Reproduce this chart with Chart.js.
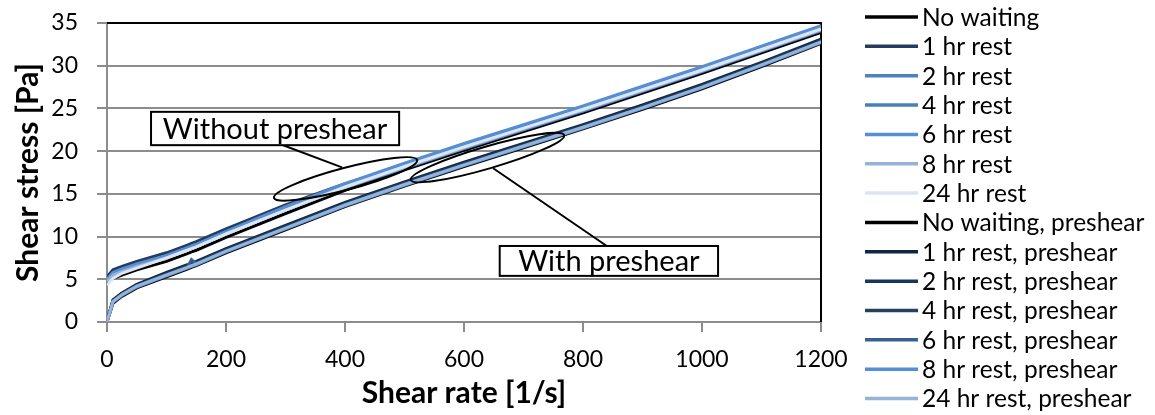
<!DOCTYPE html>
<html>
<head>
<meta charset="utf-8">
<script src="https://cdn.jsdelivr.net/npm/chart.js@4.4.1/dist/chart.umd.min.js"></script>
<style>
  body { margin: 0; background: #fff; }
  #wrap { width: 1155px; height: 415px; position: relative; }
</style>
</head>
<body>
<div id="wrap"><canvas id="graficoCisalhamento"></canvas></div>
<script>
// shear rate [1/s]
const shearRate = [0, 10, 25, 50, 100, 135, 142, 150, 200, 300, 400, 500, 600, 700, 800, 900, 1000, 1100, 1200];

// shear stress [Pa], without preshear
const noWaiting = [4.5, 5.1, 5.5, 6.1, 7.1, 8.0, 8.2, 8.4, 9.9, 12.7, 15.4, 17.8, 20.1, 22.3, 24.5, 26.8, 29.1, 31.5, 33.9];
const rest1 = [5.3, 6.1, 6.5, 7.1, 8.1, 9.0, 9.2, 9.4, 10.9, 13.7, 16.2, 18.3, 20.3, 22.5, 24.7, 27.0, 29.3, 31.7, 34.1];
const rest2 = [4.9, 5.7, 6.1, 6.7, 7.7, 8.6, 8.8, 9.0, 10.5, 13.3, 16.1, 18.5, 20.8, 23.0, 25.2, 27.5, 29.8, 32.2, 34.6];
const rest4 = [4.8, 5.6, 6.0, 6.6, 7.6, 8.5, 8.7, 8.9, 10.4, 13.1, 15.7, 18.0, 20.3, 22.5, 24.7, 27.0, 29.3, 31.7, 34.1];
const rest6 = [5.0, 5.8, 6.2, 6.8, 7.8, 8.7, 8.9, 9.1, 10.6, 13.5, 16.2, 18.6, 20.9, 23.1, 25.3, 27.6, 29.9, 32.3, 34.7];
const rest8 = [4.7, 5.5, 5.9, 6.5, 7.5, 8.4, 8.6, 8.8, 10.3, 13.1, 15.8, 18.1, 20.4, 22.6, 24.8, 27.1, 29.4, 31.8, 34.2];
const rest24 = [4.3, 5.1, 5.7, 6.3, 7.5, 8.4, 8.6, 8.8, 10.3, 13.1, 15.8, 18.2, 20.5, 22.7, 24.9, 27.2, 29.5, 31.9, 34.3];

// shear stress [Pa], with preshear
const psNoWaiting = [0.0, 2.2, 3.0, 4.0, 5.3, 6.2, 6.4, 6.6, 8.1, 10.8, 13.5, 15.9, 18.2, 20.4, 22.6, 24.9, 27.3, 29.9, 32.6];
const psRest1 = [0.1, 2.6, 3.4, 4.4, 5.8, 6.7, 6.9, 7.1, 8.6, 11.3, 14.0, 16.4, 18.7, 20.9, 23.1, 25.4, 27.8, 30.4, 33.1];
const psRest2 = [0.1, 2.5, 3.3, 4.3, 5.7, 6.6, 6.8, 7.0, 8.5, 11.2, 13.9, 16.3, 18.6, 20.8, 23.0, 25.3, 27.7, 30.3, 33.0];
const psRest4 = [0.0, 2.4, 3.3, 4.3, 5.6, 6.5, 6.7, 6.9, 8.4, 11.1, 13.8, 16.2, 18.5, 20.7, 22.9, 25.2, 27.6, 30.2, 32.9];
const psRest6 = [0.0, 2.4, 3.2, 4.2, 5.5, 6.4, 7.3, 6.8, 8.3, 11.0, 13.7, 16.1, 18.4, 20.6, 22.8, 25.1, 27.5, 30.1, 32.8];
const psRest8 = [0.0, 2.3, 3.1, 4.1, 5.4, 6.3, 6.5, 6.7, 8.2, 10.9, 13.6, 16.0, 18.3, 20.5, 22.7, 25.0, 27.4, 30.0, 32.7];
const psRest24 = [0.0, 2.4, 3.2, 4.2, 5.5, 6.4, 6.6, 6.8, 8.3, 11.0, 13.7, 16.1, 18.4, 20.6, 22.8, 25.1, 27.5, 30.1, 32.8];

const seriesLabels = [
    'No waiting', '1 hr rest', '2 hr rest', '4 hr rest', '6 hr rest', '8 hr rest', '24 hr rest',
    'No waiting, preshear', '1 hr rest, preshear', '2 hr rest, preshear', '4 hr rest, preshear',
    '6 hr rest, preshear', '8 hr rest, preshear', '24 hr rest, preshear'
];
const seriesValues = [
    noWaiting, rest1, rest2, rest4, rest6, rest8, rest24,
    psNoWaiting, psRest1, psRest2, psRest4, psRest6, psRest8, psRest24
];
const seriesColors = [
    '#000000', '#243d5e', '#4f81bd', '#4a7fbe', '#558ed5', '#95b3d7', '#dce6f2',
    '#000000', '#10253f', '#17375e', '#254061', '#376092', '#558ed5', '#95b3d7'
];

const FONTE = 'Lato, "Open Sans", sans-serif';

// callouts (data coordinates)
const ellipses = [
    { from: [279, 14.5], to: [523, 19.0], ry: 11 },
    { from: [509, 16.6], to: [770, 21.9], ry: 11 }
];
const leaders = [
    { from: [286, 20.95], to: [395, 18.1] },
    { from: [649, 18.0], to: [840, 8.9] }
];
const boxes = [
    { text: 'Without preshear', x0: 74, x1: 491, y0: 24.6, y1: 20.7 },
    { text: 'With preshear', x0: 660, x1: 1027, y0: 8.9, y1: 5.4 }
];

const moldura = {
    id: 'moldura',
    beforeDatasetsDraw(chart) {
        const { ctx, chartArea: a } = chart;
        ctx.save();
        ctx.strokeStyle = '#000';
        ctx.lineWidth = 2;
        ctx.beginPath();
        ctx.moveTo(a.left, a.top);
        ctx.lineTo(a.right, a.top);
        ctx.lineTo(a.right, a.bottom);
        ctx.stroke();
        ctx.restore();
    }
};

const anotacoes = {
    id: 'anotacoes',
    afterDatasetsDraw(chart) {
        const { ctx } = chart;
        const sx = chart.scales.x, sy = chart.scales.y;
        const px = v => sx.getPixelForValue(v);
        const py = v => sy.getPixelForValue(v);
        ctx.save();
        ctx.strokeStyle = '#000';
        ctx.lineWidth = 2;
        ellipses.forEach(e => {
            const x1 = px(e.from[0]), y1 = py(e.from[1]);
            const x2 = px(e.to[0]), y2 = py(e.to[1]);
            ctx.beginPath();
            ctx.ellipse((x1 + x2) / 2, (y1 + y2) / 2, Math.hypot(x2 - x1, y2 - y1) / 2 - 1, e.ry,
                Math.atan2(y2 - y1, x2 - x1), 0, 2 * Math.PI);
            ctx.stroke();
        });
        leaders.forEach(l => {
            ctx.beginPath();
            ctx.moveTo(px(l.from[0]), py(l.from[1]));
            ctx.lineTo(px(l.to[0]), py(l.to[1]));
            ctx.stroke();
        });
        ctx.font = '29px ' + FONTE;
        ctx.textAlign = 'center';
        ctx.textBaseline = 'middle';
        boxes.forEach(b => {
            const l = px(b.x0), r = px(b.x1), t = py(b.y0), bt = py(b.y1);
            ctx.fillStyle = '#fff';
            ctx.fillRect(l, t, r - l, bt - t);
            ctx.strokeRect(l, t, r - l, bt - t);
            ctx.fillStyle = '#000';
            ctx.fillText(b.text, (l + r) / 2, (t + bt) / 2 + 1);
        });
        ctx.restore();
    }
};

const legenda = {
    id: 'legenda',
    afterDraw(chart) {
        const { ctx, chartArea: a } = chart;
        ctx.save();
        ctx.font = '24.5px ' + FONTE;
        ctx.textBaseline = 'middle';
        ctx.textAlign = 'left';
        chart.data.datasets.forEach((ds, i) => {
            const y = a.top - 6 + i * 29.35;
            ctx.strokeStyle = ds.borderColor;
            ctx.lineWidth = 3.5;
            ctx.beginPath();
            ctx.moveTo(a.right + 44, y);
            ctx.lineTo(a.right + 97, y);
            ctx.stroke();
            ctx.fillStyle = '#000';
            ctx.fillText(ds.label, a.right + 101, y + 1);
        });
        ctx.restore();
    }
};

function graficoLinhas() {
    const ctx = document.getElementById('graficoCisalhamento');

    new Chart(ctx, {
        type: 'scatter',
        data: {
            datasets: seriesLabels.map((label, i) => ({
                label: label,
                data: shearRate.map((x, j) => ({ x: x, y: seriesValues[i][j] })),
                borderColor: seriesColors[i],
                backgroundColor: seriesColors[i],
                borderWidth: 3,
                showLine: true,
                pointRadius: 0,
                tension: 0,
                order: seriesLabels.length - i
            }))
        },
        options: {
            responsive: true,
            maintainAspectRatio: false,
            animation: false,
            layout: { padding: { top: 23, right: 334, bottom: 0, left: 6 } },
            plugins: {
                legend: { display: false },
                tooltip: { enabled: false }
            },
            scales: {
                x: {
                    type: 'linear',
                    min: 0,
                    max: 1200,
                    afterFit: s => { s.height = 93; },
                    ticks: {
                        stepSize: 200, padding: 14, color: '#000',
                        font: { family: FONTE, size: 23 },
                        callback: v => String(v)
                    },
                    grid: { drawOnChartArea: false, drawTicks: true, tickLength: 10, color: '#8c8c8c', lineWidth: 2 },
                    border: { color: '#8c8c8c', width: 2 },
                    title: {
                        display: true,
                        text: 'Shear rate [1/s]',
                        color: '#000',
                        padding: { top: 0, bottom: 4 },
                        font: { family: FONTE, size: 30, weight: 'bold' }
                    }
                },
                y: {
                    min: 0,
                    max: 35,
                    afterFit: s => { s.width = 101; s.paddingTop = 0; s.paddingBottom = 0; },
                    ticks: { stepSize: 5, padding: 19, color: '#000', font: { family: FONTE, size: 23 } },
                    grid: { color: '#8c8c8c', lineWidth: 2, tickLength: 10 },
                    border: { color: '#8c8c8c', width: 2 },
                    title: {
                        display: true,
                        text: 'Shear stress [Pa]',
                        color: '#000',
                        padding: { top: 4, bottom: 0 },
                        font: { family: FONTE, size: 30, weight: 'bold' }
                    }
                }
            }
        },
        plugins: [moldura, anotacoes, legenda]
    });
}

graficoLinhas();
</script>
</body>
</html>
